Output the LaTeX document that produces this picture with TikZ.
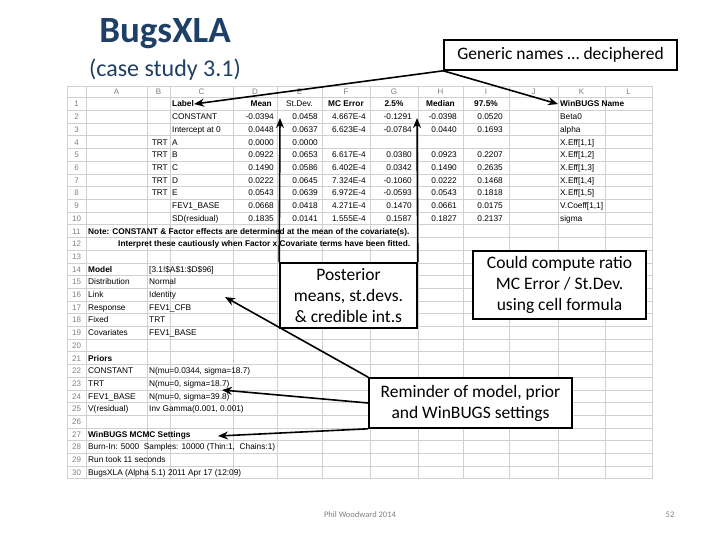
\documentclass[tikz,border=0pt]{standalone}
\usepackage{fontspec}
\setmainfont{Carlito}
\newfontfamily\xl{Liberation Sans}
\usetikzlibrary{arrows.meta}
\definecolor{ttl}{HTML}{1F3F66}
\definecolor{gridc}{HTML}{D0D0D0}
\newcommand\cfnt{\xl\fontsize{8.3}{9}\selectfont}
\newcommand\cfntb{\xl\bfseries\fontsize{8.3}{9}\selectfont}
\begin{document}
\begin{tikzpicture}[x=1pt,y=-1pt,
  cl/.style={anchor=base west,inner sep=0pt,font=\cfnt},
  cr/.style={anchor=base east,inner sep=0pt,font=\cfnt},
  cc/.style={anchor=base,inner sep=0pt,font=\cfnt},
  clb/.style={anchor=base west,inner sep=0pt,font=\cfntb},
  crb/.style={anchor=base east,inner sep=0pt,font=\cfntb},
  ccb/.style={anchor=base,inner sep=0pt,font=\cfntb},
  hd/.style={anchor=base,inner sep=0pt,text=gray,font=\xl\fontsize{8}{9}\selectfont},
  box/.style={draw,line width=1.6pt,fill=white,align=center,font=\fontsize{17.5}{21}\selectfont,inner sep=0pt},
  arr/.style={line width=1.6pt,-{Stealth[length=10pt,width=8pt]}}]
\useasboundingbox (0,0) rectangle (720,540);
% grid
\foreach \x in {67,86,147,170,233,277,322,370,418,463,509,558,605,652}
  \draw[gridc] (\x,86) -- (\x,478.6);
\foreach \i in {0,...,30}
  \draw[gridc] (67,{97.6+\i*12.7}) -- (652,{97.6+\i*12.7});
\draw[gridc] (67,86) -- (652,86);
\foreach \l/\x [count=\k] in {A/116.5,B/158.5,C/201.5,D/255,E/299.5,F/346,G/394,H/440.5,I/486,J/533.5,K/581.5,L/628.5}
  \node[hd] (h\k) at (\x,95) {\l};
\foreach \i in {1,...,30}
  \node[hd] (n\i) at (76.5,{107+(\i-1)*12.7}) {\i};
% header row
\node[clb] (lab) at (172,107) {Label};
\node[crb] (hD) at (272,107) {Mean};
\node[cc] (hE) at (299.5,107) {St.Dev.};
\node[ccb] (hF) at (346,107) {MC Error};
\node[ccb] (hG) at (394,107) {2.5\%};
\node[ccb] (hH) at (440.5,107) {Median};
\node[ccb] (hI) at (486,107) {97.5\%};
\node[clb] (wn) at (560,107) {WinBUGS Name};
% data
\foreach \b/\c/\d/\e/\f/\g/\h/\ii/\k [count=\r from 2] in {
 /CONSTANT/-0.0394/0.0458/4.667E-4/-0.1291/-0.0398/0.0520/Beta0,
 /Intercept at 0/0.0448/0.0637/6.623E-4/-0.0784/0.0440/0.1693/alpha,
 TRT/A/0.0000/0.0000/ / / / /X.Eff[1{,}1],
 TRT/B/0.0922/0.0653/6.617E-4/0.0380/0.0923/0.2207/X.Eff[1{,}2],
 TRT/C/0.1490/0.0586/6.402E-4/0.0342/0.1490/0.2635/X.Eff[1{,}3],
 TRT/D/0.0222/0.0645/7.324E-4/-0.1060/0.0222/0.1468/X.Eff[1{,}4],
 TRT/E/0.0543/0.0639/6.972E-4/-0.0593/0.0543/0.1818/X.Eff[1{,}5],
 /FEV1\_BASE/0.0668/0.0418/4.271E-4/0.1470/0.0661/0.0175/V.Coeff[1{,}1],
 /SD(residual)/0.1835/0.0141/1.555E-4/0.1587/0.1827/0.2137/sigma}
{
 \pgfmathsetmacro\yy{107+(\r-1)*12.7}
 \node[cr] (b\r) at (168,\yy) {\b};
 \node[cl] (c\r) at (172,\yy) {\c};
 \node[cr] (d\r) at (274,\yy) {\d};
 \node[cr] (e\r) at (318,\yy) {\e};
 \node[cr] (f\r) at (366,\yy) {\f};
 \node[cr] (g\r) at (412,\yy) {\g};
 \node[cr] (hh\r) at (457,\yy) {\h};
 \node[cr] (i\r) at (503,\yy) {\ii};
 \node[cl] (k\r) at (560,\yy) {\k};
}
\node[clb] (note1) at (88,234) {Note: CONSTANT \& Factor effects are determined at the mean of the covariate(s).};
\node[clb] (note2) at (118,246.7) {Interpret these cautiously when Factor x Covariate terms have been fitted.};
\node[clb] (m14) at (88,272.1) {Model};
\node[clb] (m21) at (88,361) {Priors};
\node[clb] (m27) at (88,437.2) {WinBUGS MCMC Settings};
\foreach \a/\bb/\r in {/{[3.1!\$A\$1:\$D\$96]}/14, Distribution/Normal/15, Link/Identity/16, Response/FEV1\_CFB/17, Fixed/TRT/18, Covariates/FEV1\_BASE/19,
 CONSTANT/{N(mu=0.0344, sigma=18.7)}/22, TRT/{N(mu=0, sigma=18.7)}/23, FEV1\_BASE/{N(mu=0, sigma=39.8)}/24, V(residual)/{Inv Gamma(0.001, 0.001)}/25}
{
 \node[cl] (la\r) at (88,{107+(\r-1)*12.7}) {\a};
 \node[cl] (lb\r) at (149,{107+(\r-1)*12.7}) {\bb};
}
\node[cl] (l28) at (88,449.9) {Burn-In: 5000\ \ Samples: 10000 (Thin:1,\ \ Chains:1)};
\node[cl] (l29) at (88,462.6) {Run took 11 seconds};
\node[cl] (l30) at (88,475.3) {BugsXLA (Alpha 5.1) 2011 Apr 17 (12:09)};
% titles
\node[text=ttl,font=\bfseries\fontsize{37}{40}\selectfont] (t1) at (165,34) {BugsXLA};
\node[text=ttl,font=\fontsize{24}{26}\selectfont] (t2) at (165,70) {(case study 3.1)};
% boxes
\node[box,minimum width=233,minimum height=30] (gen) at (560.5,55) {Generic names … deciphered};
\node[box,minimum width=137,minimum height=65] (post) at (348.5,295.5) {Posterior\\means, st.devs.\\\& credible int.s};
\node[box,minimum width=173,minimum height=68] (comp) at (559.5,285) {Could compute ratio\\MC Error / St.Dev.\\using cell formula};
\node[box,minimum width=203,minimum height=50] (rem) at (470.5,403) {Reminder of model, prior\\and WinBUGS settings};
% arrows
\draw[arr] (gen.south west) -- (lab.east);
\draw[arr] (gen.south west) -- ([xshift=-2pt]wn.west);
\draw[arr] (post.north west) -- (280,118);
\draw[arr] (post.north east) -- (417,118);
\draw[arr] (rem.north west) -- (225,297);
\draw[arr] (rem.west) -- (222,390);
\draw[arr] (rem.south west) -- (218,436);
% footer
\node[text=gray,font=\fontsize{8.5}{10}\selectfont] (ft) at (360,515) {Phil Woodward 2014};
\node[text=gray,font=\fontsize{8.5}{10}\selectfont] (pg) at (670,515) {52};
\end{tikzpicture}
\end{document}
